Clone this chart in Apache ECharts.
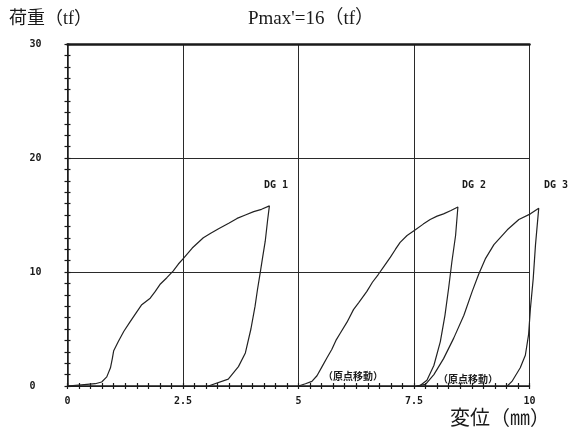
<!DOCTYPE html>
<html>
<head>
<meta charset="utf-8">
<script src="https://cdn.jsdelivr.net/npm/echarts@6/dist/echarts.min.js"></script>
<style>html,body{margin:0;padding:0;background:#fff}#c{width:573px;height:434px}</style>
</head>
<body>
<div id="c"></div>
<script>
// Data (displacement mm, load tf)
const xTicks = [0, 2.5, 5, 7.5, 10];
const yTicks = [0, 10, 20, 30];
const dg1X = [0, 0.3, 0.6, 0.74, 0.85, 0.93, 0.97, 1.0, 1.1, 1.22, 1.35, 1.5, 1.6, 1.79, 1.9, 2.0, 2.15, 2.29, 2.4, 2.51, 2.7, 2.94, 3.1, 3.27, 3.5, 3.67, 3.85, 4.03, 4.2, 4.37,
              4.33, 4.28, 4.22, 4.17, 4.11, 4.06, 3.97, 3.85, 3.7, 3.48, 3.05];
const dg1Y = [0, 0.1, 0.2, 0.35, 0.8, 1.6, 2.4, 3.1, 3.9, 4.8, 5.6, 6.5, 7.1, 7.7, 8.3, 8.9, 9.5, 10.1, 10.7, 11.2, 12.1, 13.0, 13.4, 13.8, 14.3, 14.7, 15.0, 15.3, 15.5, 15.8,
              14.5, 12.7, 11.2, 9.9, 8.4, 7.0, 5.0, 2.9, 1.7, 0.6, 0];
const dg2X = [5.0, 5.15, 5.29, 5.4, 5.51, 5.62, 5.72, 5.81, 5.9, 6.05, 6.19, 6.3, 6.48, 6.6, 6.73, 6.85, 6.99, 7.1, 7.2, 7.35, 7.53, 7.7, 7.85, 8.0, 8.14, 8.3, 8.45,
              8.40, 8.32, 8.25, 8.17, 8.07, 7.93, 7.78, 7.62];
const dg2Y = [0, 0.2, 0.4, 0.9, 1.7, 2.5, 3.2, 4.0, 4.6, 5.6, 6.7, 7.3, 8.3, 9.1, 9.8, 10.5, 11.3, 12.0, 12.6, 13.2, 13.7, 14.2, 14.6, 14.9, 15.1, 15.4, 15.7,
              13.2, 10.9, 8.6, 6.2, 3.9, 1.8, 0.5, 0];
const dg3X = [7.55, 7.75, 7.93, 8.14, 8.36, 8.58, 8.76, 8.9, 9.05, 9.23, 9.52, 9.77, 10.02, 10.2,
              10.13, 10.08, 10.02, 9.98, 9.91, 9.8, 9.62, 9.52];
const dg3Y = [0, 0.15, 1.0, 2.4, 4.2, 6.2, 8.3, 9.8, 11.2, 12.4, 13.7, 14.6, 15.1, 15.6,
              12.4, 9.4, 6.8, 4.5, 2.7, 1.6, 0.4, 0];
const seriesNames = ['DG 1', 'DG 2', 'DG 3'];

function pairs(xs, ys) { return xs.map((x, i) => [x, ys[i]]); }

const chart = echarts.init(document.getElementById('c'), null, {renderer: 'canvas'});
const ink = '#1a1a1a';
const tickFont = {fontFamily: 'DejaVu Sans Mono', fontWeight: 'bold', fontSize: 10, color: ink};
const serifFont = "'Liberation Serif', 'Noto Sans CJK JP', serif";

// plot geometry: x 0..10 spans 67.5..529.5 px; data grid extended to 10.4 with same scale
const plotLeft = 67.5, plotRight = 43.5, xMaxData = 10.4;
const pxPerUnit = (573 - plotLeft - plotRight) / 10;
const dataRight = 573 - plotLeft - xMaxData * pxPerUnit;

const baseX = {type: 'value', min: xTicks[0], max: xTicks[xTicks.length - 1], interval: 2.5, gridIndex: 0};
const baseY = {type: 'value', min: yTicks[0], max: yTicks[yTicks.length - 1], interval: 10, gridIndex: 0};

chart.setOption({
  animation: false,
  backgroundColor: '#fff',
  grid: [
    {left: plotLeft, right: plotRight, top: 44, bottom: 48},
    {left: plotLeft, right: dataRight, top: 44, bottom: 48},
  ],
  xAxis: [
    Object.assign({}, baseX, {
      position: 'bottom',
      axisLine: {show: true, lineStyle: {color: ink, width: 1.5}},
      axisTick: {show: true, inside: false, length: 3, lineStyle: {color: ink, width: 1.2}},
      minorTick: {show: true, splitNumber: 10, length: 3, lineStyle: {color: ink, width: 1.2}},
      axisLabel: Object.assign({margin: 10, formatter: v => String(v)}, tickFont),
      splitLine: {show: true, lineStyle: {color: '#2a2a2a', width: 1}},
    }),
    Object.assign({}, baseX, {
      position: 'bottom',
      axisLine: {show: false},
      axisTick: {show: true, inside: true, length: 3, lineStyle: {color: ink, width: 1.2}},
      minorTick: {show: true, splitNumber: 10, length: 3, lineStyle: {color: ink, width: 1.2}},
      axisLabel: {show: false},
      splitLine: {show: false},
    }),
    Object.assign({}, baseX, {
      position: 'top',
      axisLine: {show: true, lineStyle: {color: ink, width: 2.5}},
      axisTick: {show: false}, axisLabel: {show: false}, splitLine: {show: false},
    }),
    {type: 'value', gridIndex: 1, min: 0, max: xMaxData, show: false},
  ],
  yAxis: [
    Object.assign({}, baseY, {
      position: 'left',
      axisLine: {show: true, lineStyle: {color: ink, width: 1.5}},
      axisTick: {show: true, inside: false, length: 3, lineStyle: {color: ink, width: 1.2}},
      minorTick: {show: true, splitNumber: 10, length: 3, lineStyle: {color: ink, width: 1.2}},
      axisLabel: Object.assign({margin: 38, align: 'left'}, tickFont),
      splitLine: {show: true, lineStyle: {color: '#2a2a2a', width: 1.2}},
    }),
    Object.assign({}, baseY, {
      position: 'left',
      axisLine: {show: false},
      axisTick: {show: true, inside: true, length: 3, lineStyle: {color: ink, width: 1.2}},
      minorTick: {show: true, splitNumber: 10, length: 3, lineStyle: {color: ink, width: 1.2}},
      axisLabel: {show: false},
      splitLine: {show: false},
    }),
    {type: 'value', gridIndex: 1, min: yTicks[0], max: yTicks[yTicks.length - 1], show: false},
  ],
  series: [
    {name: seriesNames[0], type: 'line', data: pairs(dg1X, dg1Y)},
    {name: seriesNames[1], type: 'line', data: pairs(dg2X, dg2Y)},
    {name: seriesNames[2], type: 'line', data: pairs(dg3X, dg3Y)},
  ].map(s => Object.assign(s, {
    xAxisIndex: 3, yAxisIndex: 2, showSymbol: false, symbol: 'none',
    lineStyle: {color: '#222', width: 1.2}, smooth: false,
  })),
  graphic: [
    {type: 'text', left: 9, top: 10, style: {text: '荷重（tf）', font: "18px " + serifFont, fill: ink}},
    {type: 'text', left: 248, top: 10, style: {text: "Pmax'=16（tf）", font: "19px " + serifFont, fill: ink}},
    {type: 'text', left: 450, top: 410, style: {text: '変位（㎜）', font: "20px " + serifFont, fill: ink}},
    {type: 'text', left: 264, top: 180, style: {text: seriesNames[0], font: "bold 10px 'DejaVu Sans Mono'", fill: ink}},
    {type: 'text', left: 462, top: 180, style: {text: seriesNames[1], font: "bold 10px 'DejaVu Sans Mono'", fill: ink}},
    {type: 'text', left: 544, top: 180, style: {text: seriesNames[2], font: "bold 10px 'DejaVu Sans Mono'", fill: ink}},
    {type: 'text', left: 323, top: 371, style: {text: '（原点移動）', font: "bold 10px 'Noto Sans CJK JP'", fill: ink}},
    {type: 'text', left: 438, top: 374, style: {text: '（原点移動）', font: "bold 10px 'Noto Sans CJK JP'", fill: ink}},
  ],
});
</script>
</body>
</html>
